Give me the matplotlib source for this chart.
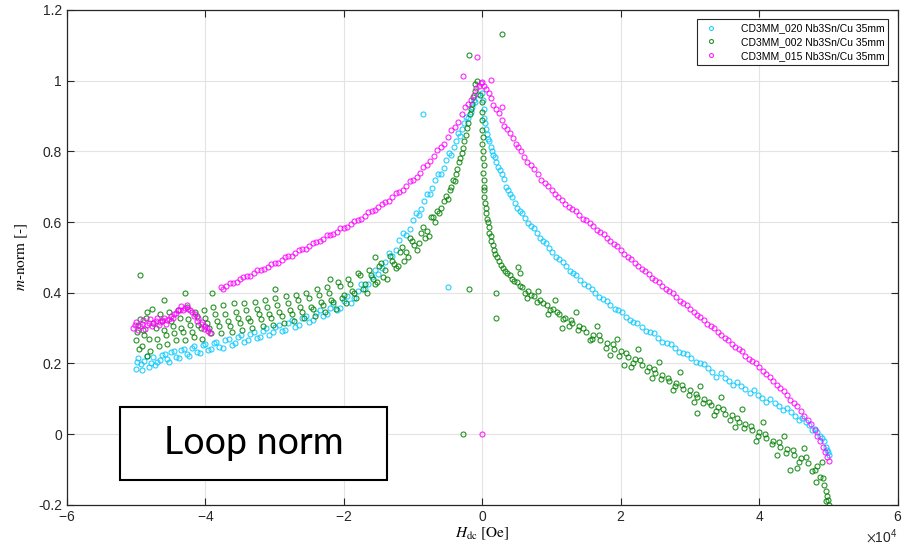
import numpy as np
import matplotlib
matplotlib.use('Agg')
import matplotlib.pyplot as plt
from matplotlib.patches import Rectangle
from matplotlib.ticker import ScalarFormatter

# field values in units of 1e4 Oe, normalized moment
h_020 = [-5.00, -4.97, -4.93, -4.88, -4.82, -4.76, -4.70, -4.63, -4.56, -4.49, -4.42, -4.35,
         -4.27, -4.20, -4.12, -4.04, -3.96, -3.88, -3.80, -3.71, -3.62, -3.53, -3.44, -3.35,
         -3.26, -3.17, -3.08, -2.99, -2.90, -2.80, -2.70, -2.60, -2.50, -2.40, -2.30, -2.20,
         -2.10, -2.00, -1.90, -1.80, -1.70, -1.60, -1.50, -1.40, -1.30, -1.20, -1.10, -1.00,
         -0.92, -0.84, -0.76, -0.68, -0.60, -0.52, -0.45, -0.38, -0.32, -0.26, -0.20, -0.15,
         -0.10, -0.06,
         0.00, 0.02, 0.04, 0.07, 0.10, 0.14, 0.18, 0.23, 0.28, 0.34, 0.40, 0.47, 0.54, 0.62,
         0.70, 0.79, 0.88, 0.97, 1.06, 1.16, 1.26, 1.36, 1.47, 1.58, 1.69, 1.80, 1.91, 2.02,
         2.13, 2.24, 2.36, 2.48, 2.60, 2.72, 2.84, 2.96, 3.08, 3.20, 3.32, 3.44, 3.56, 3.68,
         3.80, 3.92, 4.04, 4.16, 4.28, 4.40, 4.52, 4.62, 4.72, 4.80, 4.88, 4.94, 4.98, 5.00,
         -0.86, -0.49]
m_020 = [0.185, 0.215, 0.198, 0.207, 0.190, 0.218, 0.205, 0.224, 0.212, 0.232, 0.219, 0.238,
         0.226, 0.244, 0.233, 0.252, 0.238, 0.258, 0.247, 0.266, 0.252, 0.275, 0.262, 0.283,
         0.271, 0.292, 0.280, 0.304, 0.292, 0.314, 0.303, 0.328, 0.317, 0.342, 0.333, 0.358,
         0.350, 0.378, 0.372, 0.405, 0.412, 0.445, 0.452, 0.488, 0.505, 0.548, 0.563, 0.605,
         0.620, 0.660, 0.680, 0.720, 0.735, 0.775, 0.790, 0.830, 0.842, 0.880, 0.893, 0.925,
         0.940, 0.962,
         0.965, 0.920, 0.880, 0.850, 0.830, 0.800, 0.785, 0.755, 0.735, 0.700, 0.680, 0.655,
         0.630, 0.612, 0.588, 0.570, 0.545, 0.528, 0.502, 0.487, 0.462, 0.450, 0.425, 0.412,
         0.388, 0.377, 0.355, 0.345, 0.323, 0.315, 0.292, 0.285, 0.262, 0.255, 0.232, 0.226,
         0.204, 0.198, 0.176, 0.172, 0.150, 0.147, 0.127, 0.124, 0.103, 0.100, 0.080, 0.074,
         0.052, 0.045, 0.025, 0.015, -0.005, -0.020, -0.045, -0.060,
         0.905, 0.417]
h_020b = [-4.99, -4.91, -4.85, -4.79, -4.73, -4.66, -4.59, -4.52, -4.45, -4.38, -4.31, -4.23,
          -4.16, -4.08, -4.00, -3.92, -3.84, -3.75, -3.66, -3.57, -3.48, -3.39, -3.30, -3.21,
          -3.12, -3.03, -2.94, -2.85, -2.75, -2.65, -2.55, -2.45, -2.35, -2.25, -2.15, -2.05,
          -1.95, -1.85, -1.75, -1.65, -1.55, -1.45, -1.35, -1.25, -1.15, -1.05, -0.96, -0.88,
          -0.80, -0.72, -0.64, -0.56, -0.48, -0.41, -0.35, -0.29, -0.23, -0.17, -0.12,
          0.01, 0.03, 0.05, 0.08, 0.12, 0.16, 0.20, 0.25, 0.31, 0.37, 0.43, 0.50, 0.58, 0.66,
          0.74, 0.83, 0.92, 1.01, 1.11, 1.21, 1.31, 1.41, 1.52, 1.63, 1.74, 1.85, 1.96, 2.07,
          2.18, 2.30, 2.42, 2.54, 2.66, 2.78, 2.90, 3.02, 3.14, 3.26, 3.38, 3.50, 3.62, 3.74,
          3.86, 3.98, 4.10, 4.22, 4.34, 4.46, 4.57, 4.67, 4.76, 4.84, 4.91, 4.96, 4.99]
m_020b = [0.205, 0.182, 0.222, 0.200, 0.195, 0.210, 0.228, 0.205, 0.236, 0.215, 0.242, 0.222,
          0.250, 0.230, 0.256, 0.240, 0.262, 0.245, 0.270, 0.258, 0.280, 0.266, 0.290, 0.276,
          0.300, 0.288, 0.310, 0.296, 0.322, 0.310, 0.335, 0.322, 0.350, 0.340, 0.368, 0.358,
          0.390, 0.385, 0.425, 0.425, 0.465, 0.470, 0.512, 0.522, 0.570, 0.580, 0.625, 0.638,
          0.680, 0.695, 0.735, 0.752, 0.795, 0.812, 0.852, 0.862, 0.898, 0.912, 0.945,
          0.945, 0.895, 0.862, 0.835, 0.812, 0.790, 0.770, 0.748, 0.722, 0.690, 0.672, 0.640,
          0.625, 0.598, 0.582, 0.556, 0.540, 0.515, 0.495, 0.475, 0.455, 0.437, 0.420, 0.400,
          0.383, 0.365, 0.350, 0.332, 0.318, 0.302, 0.288, 0.273, 0.258, 0.244, 0.229, 0.215,
          0.200, 0.187, 0.162, 0.160, 0.138, 0.136, 0.116, 0.112, 0.092, 0.088, 0.068, 0.062,
          0.040, 0.034, 0.012, 0.005, -0.012, -0.035, -0.050]

h_002 = [-5.00, -4.98, -4.96, -4.94, -4.90, -4.86, -4.82, -4.77, -4.72, -4.67, -4.62, -4.57,
         -4.52, -4.47, -4.42, -4.37, -4.32, -4.27, -4.22, -4.17, -4.12, -4.07, -4.02, -3.97,
         -3.92, -3.86, -3.80, -3.74, -3.68, -3.62, -3.56, -3.50, -3.44, -3.38, -3.32, -3.26,
         -3.20, -3.14, -3.08, -3.02, -2.96, -2.90, -2.84, -2.78, -2.72, -2.66, -2.60, -2.54,
         -2.48, -2.42, -2.36, -2.30, -2.24, -2.18, -2.12, -2.06, -2.00, -1.94, -1.88, -1.82,
         -1.76, -1.70, -1.64, -1.58, -1.52, -1.46, -1.40, -1.34, -1.28, -1.22, -1.16, -1.10,
         -1.04, -0.98, -0.92, -0.86, -0.80, -0.74, -0.68, -0.62, -0.56, -0.50, -0.45, -0.40,
         -0.36, -0.32, -0.28, -0.24, -0.20, -0.16, -0.13, -0.10, -0.07,
         -0.03, -0.01, 0.00, 0.00, 0.01, 0.01, 0.02, 0.03, 0.05, 0.07, 0.09, 0.12, 0.15, 0.19,
         0.24, 0.30, 0.36, 0.43, 0.50, 0.58, 0.66, 0.75, 0.84, 0.93, 1.02, 1.11, 1.20, 1.30,
         1.40, 1.50, 1.60, 1.70, 1.80, 1.90, 2.00, 2.10, 2.20, 2.30, 2.40, 2.50, 2.60, 2.70,
         2.80, 2.90, 3.00, 3.10, 3.20, 3.30, 3.40, 3.50, 3.60, 3.70, 3.80, 3.90, 4.00, 4.10,
         4.20, 4.30, 4.40, 4.50, 4.60, 4.70, 4.80, 4.88, 4.94, 4.98, 5.00,
         0.55, 0.65, 0.80, 0.95, 1.05, 1.25, 1.35, 1.55, 1.65, 1.85, 1.95, 2.15, 2.25, 2.45,
         2.55, 2.75, 2.85, 3.05, 3.15, 3.35, 3.45, 3.65, 3.75, 3.95, 4.05, 4.25, 4.35, 4.55,
         4.65, 4.82, 4.90, 4.97, 4.45, 3.10, 2.05, 1.15,
         -0.19, 0.28, -0.28, -0.19, 0.20, 0.20, 0.52]
m_002 = [0.265, 0.310, 0.240, 0.450, 0.295, 0.330, 0.270, 0.355, 0.300, 0.250, 0.320, 0.280,
         0.345, 0.305, 0.265, 0.330, 0.290, 0.360, 0.310, 0.275, 0.335, 0.300, 0.350, 0.315,
         0.285, 0.340, 0.305, 0.365, 0.320, 0.290, 0.345, 0.315, 0.370, 0.330, 0.300, 0.355,
         0.325, 0.380, 0.340, 0.310, 0.365, 0.335, 0.390, 0.350, 0.320, 0.380, 0.345, 0.400,
         0.360, 0.335, 0.395, 0.365, 0.415, 0.380, 0.355, 0.420, 0.395, 0.440, 0.405, 0.385,
         0.450, 0.425, 0.465, 0.440, 0.430, 0.485, 0.465, 0.505, 0.480, 0.475, 0.530, 0.515,
         0.555, 0.535, 0.540, 0.585, 0.575, 0.615, 0.600, 0.625, 0.660, 0.665, 0.700, 0.715,
         0.750, 0.780, 0.810, 0.845, 0.880, 0.920, 0.955, 0.990, 1.000,
         0.960, 0.910, 0.860, 0.820, 0.780, 0.740, 0.700, 0.670, 0.640, 0.610, 0.585, 0.560,
         0.535, 0.510, 0.490, 0.470, 0.455, 0.440, 0.430, 0.415, 0.405, 0.390, 0.380, 0.365,
         0.355, 0.340, 0.330, 0.315, 0.305, 0.290, 0.280, 0.265, 0.258, 0.240, 0.235, 0.218,
         0.212, 0.195, 0.190, 0.172, 0.168, 0.150, 0.146, 0.128, 0.124, 0.105, 0.100, 0.082,
         0.078, 0.058, 0.054, 0.035, 0.030, 0.012, 0.006, -0.012, -0.018, -0.035, -0.042,
         -0.058, -0.068, -0.082, -0.100, -0.120, -0.145, -0.175, -0.200,
         0.455, 0.385, 0.405, 0.340, 0.380, 0.305, 0.345, 0.265, 0.305, 0.225, 0.270, 0.190,
         0.240, 0.160, 0.205, 0.125, 0.175, 0.090, 0.135, 0.055, 0.105, 0.020, 0.070, -0.020,
         0.035, -0.060, -0.005, -0.095, -0.040, -0.135, -0.080, -0.190, -0.100, 0.060, 0.195,
         0.300,
         1.072, 1.131, 0.000, 0.412, 0.398, 0.330, 0.473]
h_002b = [-4.99, -4.95, -4.92, -4.88, -4.84, -4.80, -4.75, -4.70, -4.65, -4.60, -4.55, -4.50,
          -4.45, -4.40, -4.35, -4.30, -4.25, -4.20, -4.15, -4.10, -4.05, -4.00, -3.95, -3.89,
          -3.83, -3.77, -3.71, -3.65, -3.59, -3.53, -3.47, -3.41, -3.35, -3.29, -3.23, -3.17,
          -3.11, -3.05, -2.99, -2.93, -2.87, -2.81, -2.75, -2.69, -2.63, -2.57, -2.51, -2.45,
          -2.39, -2.33, -2.27, -2.21, -2.15, -2.09, -2.03, -1.97, -1.91, -1.85, -1.79, -1.73,
          -1.67, -1.61, -1.55, -1.49, -1.43, -1.37, -1.31, -1.25, -1.19, -1.13, -1.07, -1.01,
          -0.95, -0.89, -0.83, -0.77, -0.71, -0.65, -0.59, -0.53, -0.47, -0.42, -0.38, -0.34,
          -0.30, -0.26, -0.22, -0.18, -0.15, -0.11,
          -4.60, -3.90, -4.85, -2.20, -1.55, -3.00, -4.30,
          0.00, 0.00, 0.01, 0.01, 0.02, 0.02, 0.03, 0.04, 0.06, 0.08, 0.10, 0.13, 0.17, 0.21,
          0.27, 0.33, 0.40, 0.46, 0.54, 0.62, 0.70, 0.79, 0.88, 0.98, 1.08, 1.16, 1.28, 1.38,
          1.46, 1.58, 1.68, 1.78, 1.88, 1.98, 2.08, 2.18, 2.28, 2.38, 2.48, 2.58, 2.68, 2.78,
          2.88, 2.98, 3.08, 3.18, 3.28, 3.38, 3.48, 3.58, 3.68, 3.78, 3.88, 3.98, 4.08, 4.18,
          4.28, 4.38, 4.48, 4.58, 4.68, 4.76, 4.84, 4.92, 4.96, 4.99]
m_002b = [0.290, 0.325, 0.250, 0.280, 0.345, 0.235, 0.315, 0.270, 0.340, 0.295, 0.255, 0.320,
          0.285, 0.350, 0.300, 0.265, 0.325, 0.290, 0.345, 0.310, 0.270, 0.330, 0.300, 0.360,
          0.320, 0.285, 0.340, 0.305, 0.370, 0.330, 0.295, 0.350, 0.320, 0.375, 0.340, 0.305,
          0.360, 0.330, 0.385, 0.345, 0.315, 0.370, 0.340, 0.395, 0.360, 0.330, 0.385, 0.355,
          0.410, 0.375, 0.345, 0.400, 0.375, 0.430, 0.385, 0.370, 0.425, 0.400, 0.455, 0.410,
          0.400, 0.450, 0.425, 0.475, 0.445, 0.440, 0.490, 0.470, 0.515, 0.490, 0.500, 0.545,
          0.520, 0.570, 0.555, 0.560, 0.615, 0.630, 0.640, 0.675, 0.690, 0.720, 0.735, 0.770,
          0.795, 0.830, 0.865, 0.905, 0.935, 0.970,
          0.380, 0.400, 0.220, 0.440, 0.500, 0.410, 0.400,
          0.940, 0.890, 0.840, 0.800, 0.760, 0.720, 0.690, 0.655, 0.625, 0.600, 0.570, 0.545,
          0.520, 0.500, 0.478, 0.462, 0.450, 0.432, 0.420, 0.400, 0.395, 0.375, 0.372, 0.350,
          0.345, 0.325, 0.322, 0.295, 0.300, 0.270, 0.280, 0.245, 0.255, 0.220, 0.230, 0.200,
          0.210, 0.178, 0.185, 0.155, 0.160, 0.135, 0.140, 0.110, 0.115, 0.088, 0.092, 0.065,
          0.070, 0.040, 0.045, 0.018, 0.022, -0.005, 0.000, -0.028, -0.022, -0.052, -0.045,
          -0.078, -0.065, -0.105, -0.090, -0.125, -0.160, -0.185]

h_015 = [-5.05, -5.00, -4.95, -4.90, -4.85, -4.80, -4.75, -4.70, -4.65, -4.60, -4.55, -4.50,
         -4.45, -4.40, -4.35, -4.30, -4.25, -4.20, -4.15, -4.10, -4.05, -4.00, -3.96, -3.93,
         -3.78, -3.70, -3.60, -3.50, -3.40, -3.30, -3.20, -3.10, -3.00, -2.90, -2.80, -2.70,
         -2.60, -2.50, -2.40, -2.30, -2.20, -2.10, -2.00, -1.90, -1.80, -1.70, -1.60, -1.50,
         -1.40, -1.30, -1.20, -1.10, -1.00, -0.90, -0.80, -0.70, -0.60, -0.50, -0.40, -0.30,
         -0.20, -0.12, -0.05,
         0.00, 0.06, 0.12, 0.20, 0.28, 0.36, 0.44, 0.52, 0.60, 0.70, 0.80, 0.90, 1.00, 1.10,
         1.20, 1.30, 1.40, 1.50, 1.60, 1.70, 1.80, 1.90, 2.00, 2.10, 2.20, 2.30, 2.40, 2.50,
         2.60, 2.70, 2.80, 2.90, 3.00, 3.10, 3.20, 3.30, 3.40, 3.50, 3.60, 3.70, 3.80, 3.90,
         4.00, 4.10, 4.20, 4.30, 4.40, 4.50, 4.60, 4.70, 4.80, 4.88, 4.95, 5.00,
         -0.08, -0.28, 0.13, 0.00, 0.28]
m_015 = [0.300, 0.318, 0.305, 0.322, 0.310, 0.326, 0.315, 0.328, 0.318, 0.330, 0.322, 0.335,
         0.340, 0.352, 0.362, 0.358, 0.355, 0.345, 0.340, 0.328, 0.318, 0.305, 0.292, 0.285,
         0.415, 0.420, 0.428, 0.438, 0.446, 0.455, 0.465, 0.474, 0.484, 0.492, 0.503, 0.512,
         0.523, 0.532, 0.543, 0.552, 0.562, 0.572, 0.582, 0.594, 0.605, 0.617, 0.630, 0.642,
         0.656, 0.670, 0.686, 0.702, 0.720, 0.740, 0.762, 0.786, 0.812, 0.840, 0.870, 0.905,
         0.935, 0.960, 0.985,
         0.995, 0.975, 0.950, 0.920, 0.890, 0.862, 0.838, 0.812, 0.785, 0.760, 0.735, 0.710,
         0.690, 0.670, 0.652, 0.636, 0.620, 0.605, 0.588, 0.572, 0.555, 0.538, 0.520, 0.502,
         0.485, 0.468, 0.452, 0.436, 0.420, 0.404, 0.388, 0.372, 0.355, 0.338, 0.322, 0.305,
         0.290, 0.272, 0.256, 0.240, 0.222, 0.206, 0.190, 0.170, 0.150, 0.130, 0.110, 0.088,
         0.065, 0.040, 0.012, -0.020, -0.050, -0.075,
         1.067, 1.012, 1.003, 0.000, 0.924]
h_015b = [-5.02, -4.97, -4.92, -4.87, -4.82, -4.77, -4.72, -4.67, -4.62, -4.57, -4.52, -4.47,
          -4.42, -4.37, -4.32, -4.27, -4.22, -4.17, -4.12, -4.07, -4.02, -3.98,
          -3.74, -3.65, -3.55, -3.45, -3.35, -3.25, -3.15, -3.05, -2.95, -2.85, -2.75, -2.65,
          -2.55, -2.45, -2.35, -2.25, -2.15, -2.05, -1.95, -1.85, -1.75, -1.65, -1.55, -1.45,
          -1.35, -1.25, -1.15, -1.05, -0.95, -0.85, -0.75, -0.65, -0.55, -0.45, -0.35, -0.25,
          -0.16, -0.09, -0.02,
          0.03, 0.09, 0.16, 0.24, 0.32, 0.40, 0.48, 0.56, 0.65, 0.75, 0.85, 0.95, 1.05, 1.15,
          1.25, 1.35, 1.45, 1.55, 1.65, 1.75, 1.85, 1.95, 2.05, 2.15, 2.25, 2.35, 2.45, 2.55,
          2.65, 2.75, 2.85, 2.95, 3.05, 3.15, 3.25, 3.35, 3.45, 3.55, 3.65, 3.75, 3.85, 3.95,
          4.05, 4.15, 4.25, 4.35, 4.45, 4.55, 4.65, 4.75, 4.84, 4.92, 4.98]
m_015b = [0.310, 0.295, 0.312, 0.298, 0.315, 0.305, 0.320, 0.308, 0.322, 0.312, 0.325, 0.330,
          0.342, 0.352, 0.350, 0.365, 0.352, 0.335, 0.320, 0.312, 0.298, 0.300,
          0.412, 0.428, 0.430, 0.445, 0.448, 0.464, 0.466, 0.482, 0.485, 0.502, 0.505, 0.522,
          0.525, 0.542, 0.546, 0.562, 0.565, 0.582, 0.587, 0.604, 0.610, 0.628, 0.634, 0.652,
          0.660, 0.682, 0.692, 0.715, 0.728, 0.756, 0.772, 0.805, 0.822, 0.860, 0.882, 0.925,
          0.945, 0.978, 0.992,
          0.985, 0.965, 0.932, 0.908, 0.872, 0.852, 0.822, 0.802, 0.770, 0.750, 0.720, 0.702,
          0.678, 0.663, 0.642, 0.630, 0.610, 0.598, 0.578, 0.566, 0.545, 0.532, 0.510, 0.496,
          0.475, 0.462, 0.443, 0.430, 0.410, 0.398, 0.378, 0.366, 0.345, 0.332, 0.312, 0.300,
          0.280, 0.266, 0.246, 0.234, 0.212, 0.200, 0.178, 0.162, 0.138, 0.122, 0.098, 0.080,
          0.052, 0.030, -0.005, -0.035, -0.065]

labels = ['CD3MM_020 Nb3Sn/Cu 35mm', 'CD3MM_002 Nb3Sn/Cu 35mm', 'CD3MM_015 Nb3Sn/Cu 35mm']
colors = ['#00c8ff', '#008000', '#ff00ff']

plt.rcParams['font.family'] = ['Liberation Sans', 'DejaVu Sans']
plt.rcParams['mathtext.fontset'] = 'stix'
plt.rcParams['axes.unicode_minus'] = False

fig = plt.figure(figsize=(9.17, 5.5), dpi=100)
ax = fig.add_axes([0.073, 0.082, 0.906, 0.9])

series = [(h_020 + h_020b, m_020 + m_020b),
          (h_002 + h_002b, m_002 + m_002b),
          (h_015 + h_015b, m_015 + m_015b)]
for (h, m), lab, col in zip(series, labels, colors):
    ax.plot(np.array(h) * 1e4, m, 'o', ms=3.6, mfc='none', mec=col, mew=0.8, alpha=0.85, label=lab)

ax.set_xlim(-60000, 60000)
ax.set_ylim(-0.2, 1.2)
ax.set_xticks(np.arange(-60000, 60001, 20000))
ax.set_yticks(np.arange(-0.2, 1.21, 0.2))
ax.set_yticklabels(['-0.2', '0', '0.2', '0.4', '0.6', '0.8', '1', '1.2'])
fmt = ScalarFormatter(useMathText=True)
fmt.set_powerlimits((0, 0))
ax.xaxis.set_major_formatter(fmt)
ax.xaxis.get_offset_text().set_fontsize(10)
ax.xaxis.get_offset_text().set_color('#262626')

ax.grid(True, color='#e3e3e3', lw=0.8)
ax.set_axisbelow(True)
ax.tick_params(direction='in', top=True, right=True, length=5, labelsize=10, colors='#262626')
for s in ax.spines.values():
    s.set_color('#262626')
    s.set_linewidth(0.9)

ax.set_xlabel(r'$H_{\mathrm{dc}}$ [Oe]', fontsize=11, family='STIXGeneral', labelpad=1)
ax.set_ylabel(r'$m$-norm [-]', fontsize=11, family='STIXGeneral', labelpad=6)

leg = ax.legend(loc='upper right', fontsize=7.5, markerscale=0.8, handletextpad=1.8,
                fancybox=False, edgecolor='#262626', framealpha=1, borderaxespad=0.9,
                labelspacing=0.35)
leg.get_frame().set_linewidth(0.8)

ax.add_patch(Rectangle((0.0638, 0.0505), 0.322, 0.148, transform=ax.transAxes,
                       facecolor='white', edgecolor='black', lw=1.5, zorder=5))
ax.text(0.225, 0.1245, 'Loop norm', transform=ax.transAxes, ha='center', va='center',
        fontsize=27, family='Lato', zorder=6)

plt.savefig('out.png', dpi=100)
